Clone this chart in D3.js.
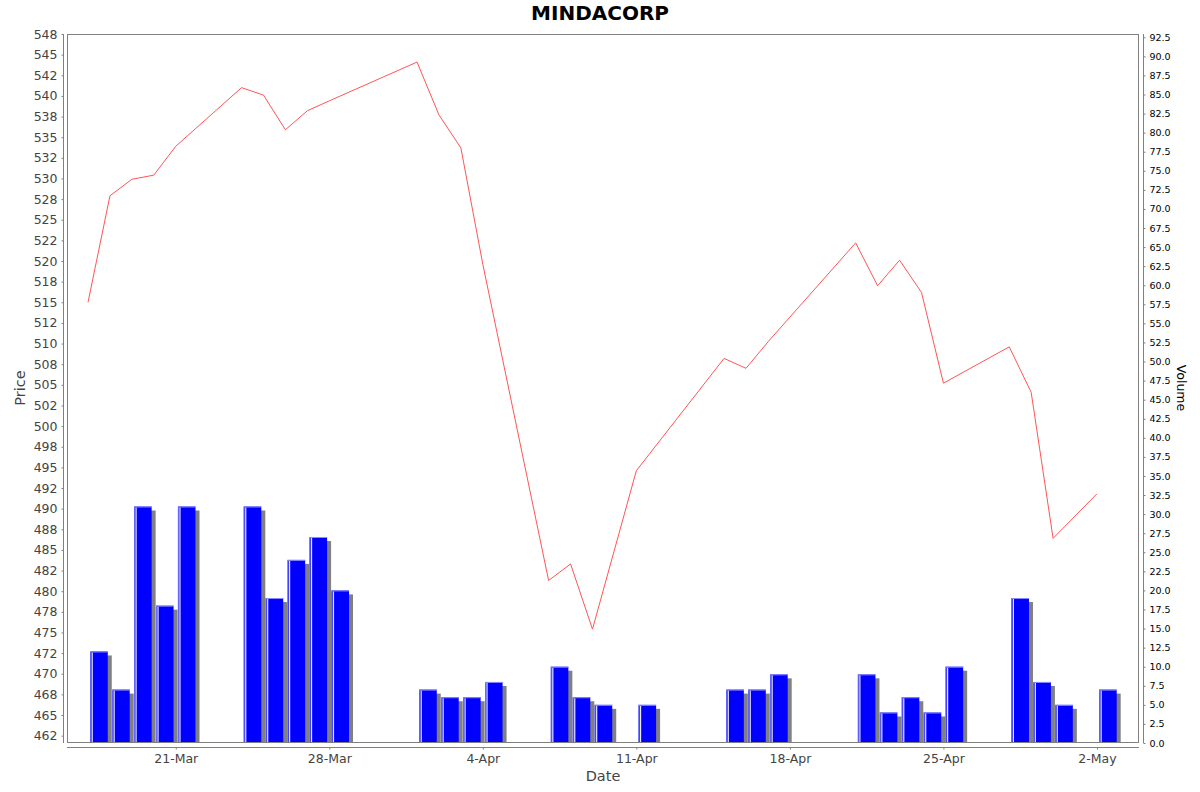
<!DOCTYPE html>
<html>
<head>
<meta charset="utf-8">
<script src="https://cdn.jsdelivr.net/npm/d3@7"></script>
<style>
body { margin: 0; background: #fff; }
text { font-family: "DejaVu Sans", sans-serif; }
</style>
</head>
<body>
<svg id="chart"></svg>
<script>
// trading days
var dates = ["2025-03-17", "2025-03-18", "2025-03-19", "2025-03-20", "2025-03-21",
    "2025-03-24", "2025-03-25", "2025-03-26", "2025-03-27", "2025-03-28",
    "2025-04-01", "2025-04-02", "2025-04-03", "2025-04-04",
    "2025-04-07", "2025-04-08", "2025-04-09", "2025-04-11",
    "2025-04-15", "2025-04-16", "2025-04-17",
    "2025-04-21", "2025-04-22", "2025-04-23", "2025-04-24", "2025-04-25",
    "2025-04-28", "2025-04-29", "2025-04-30", "2025-05-02"];

var prices = [515.0, 527.9, 529.9, 530.4, 533.9,
    541.0, 540.1, 535.9, 538.2, 539.4,
    544.1, 537.7, 533.7, 519.6,
    481.3, 483.3, 475.4, 494.6,
    508.2, 507.0, 510.2,
    522.2, 517.0, 520.1, 516.2, 505.2,
    509.6, 504.1, 486.4, 491.8];

var volumes = [12, 7, 31, 18, 31,
    31, 19, 24, 27, 20,
    7, 6, 6, 8,
    10, 6, 5, 5,
    7, 7, 9,
    9, 4, 6, 4, 10,
    19, 8, 5, 7];

var dateTicks = ["2025-03-21", "2025-03-28", "2025-04-04", "2025-04-11",
    "2025-04-18", "2025-04-25", "2025-05-02"];
var priceTicks = d3.range(462.5, 548, 2.5);
var volumeTicks = d3.range(0, 93, 2.5);

var svgWidth = 1200, svgHeight = 792;
var plot = {left: 67, top: 34, right: 1139, bottom: 743};

var parse = d3.timeParse("%Y-%m-%d");
var days = dates.map(parse);

var svg = d3.select("#chart")
    .attr("width", svgWidth)
    .attr("height", svgHeight);

// java style half-even rounding for the price labels
function halfEven(v) {
    var f = Math.floor(v);
    var diff = v - f;
    if (Math.abs(diff - 0.5) < 1e-9) return String(f % 2 === 0 ? f : f + 1);
    return String(Math.round(v));
}

var xScale = d3.scaleTime()
    .domain([d3.timeHour.offset(days[0], -23), d3.timeHour.offset(days[days.length - 1], 46)])
    .range([plot.left, plot.right]);

var yPrice = d3.scaleLinear()
    .domain([461.61, 547.5])
    .range([plot.bottom, plot.top]);

var yVolume = d3.scaleLinear()
    .domain([0, 92.93])
    .range([plot.bottom, plot.top]);

svg.append("clipPath").attr("id", "plotClip")
    .append("rect")
    .attr("x", plot.left).attr("y", plot.top)
    .attr("width", plot.right - plot.left)
    .attr("height", plot.bottom - plot.top);

svg.append("rect")
    .attr("x", plot.left).attr("y", plot.top)
    .attr("width", plot.right - plot.left)
    .attr("height", plot.bottom - plot.top)
    .attr("fill", "#fff");

var plotArea = svg.append("g").attr("clip-path", "url(#plotClip)");

// volume bars: each spans its day, 80% wide, with a grey shadow
function barX0(d) {
    var a = xScale(d), b = xScale(d3.timeDay.offset(d, 1));
    return a + (b - a) * 0.1;
}
function barW(d) {
    var a = xScale(d), b = xScale(d3.timeDay.offset(d, 1));
    return (b - a) * 0.8;
}

var bars = plotArea.selectAll("g.bar")
    .data(days)
    .enter()
    .append("g")
    .attr("class", "bar");

bars.append("rect")
    .attr("x", function (d) { return barX0(d) + 4; })
    .attr("y", function (d, i) { return yVolume(volumes[i]) + 4; })
    .attr("width", function (d) { return barW(d); })
    .attr("height", function (d, i) { return Math.max(0, plot.bottom - yVolume(volumes[i]) - 4); })
    .attr("fill", "#808080");

bars.append("rect")
    .attr("x", function (d) { return barX0(d); })
    .attr("y", function (d, i) { return yVolume(volumes[i]); })
    .attr("width", function (d) { return barW(d); })
    .attr("height", function (d, i) { return plot.bottom - yVolume(volumes[i]); })
    .attr("fill", "#0000ff");

bars.append("line")
    .attr("x1", function (d) { return barX0(d) + 0.5; })
    .attr("x2", function (d) { return barX0(d) + 0.5; })
    .attr("y1", function (d, i) { return yVolume(volumes[i]); })
    .attr("y2", plot.bottom)
    .attr("stroke", "#6a6aff")
    .attr("stroke-width", 1);

bars.append("line")
    .attr("x1", function (d) { return barX0(d) + 2; })
    .attr("x2", function (d) { return barX0(d) + 2; })
    .attr("y1", function (d, i) { return yVolume(volumes[i]) + 1; })
    .attr("y2", plot.bottom)
    .attr("stroke", "#e8e8ff")
    .attr("stroke-width", 1.2);

bars.append("line")
    .attr("x1", function (d) { return barX0(d); })
    .attr("x2", function (d) { return barX0(d) + barW(d); })
    .attr("y1", function (d, i) { return yVolume(volumes[i]) + 0.5; })
    .attr("y2", function (d, i) { return yVolume(volumes[i]) + 0.5; })
    .attr("stroke", "#8c8cff")
    .attr("stroke-width", 1);

// price line
var line = d3.line()
    .x(function (d) { return xScale(d); })
    .y(function (d, i) { return yPrice(prices[i]); });

plotArea.append("path")
    .datum(days)
    .attr("d", line)
    .attr("fill", "none")
    .attr("stroke", "#ff5555")
    .attr("stroke-width", 1);

// plot outline
svg.append("rect")
    .attr("x", plot.left + 0.5).attr("y", plot.top + 0.5)
    .attr("width", plot.right - plot.left - 1)
    .attr("height", plot.bottom - plot.top - 1)
    .attr("fill", "none")
    .attr("stroke", "#808080");

// axes
var leftAxis = d3.axisLeft(yPrice)
    .tickValues(priceTicks)
    .tickFormat(halfEven)
    .tickSizeInner(2)
    .tickSizeOuter(0)
    .tickPadding(4);

var gLeft = svg.append("g")
    .attr("transform", "translate(63.5,0)")
    .call(leftAxis);
gLeft.selectAll("text").attr("font-size", "12.5px").attr("fill", "#444");

var rightAxis = d3.axisRight(yVolume)
    .tickValues(volumeTicks)
    .tickFormat(d3.format(".1f"))
    .tickSizeInner(2)
    .tickSizeOuter(0)
    .tickPadding(4);

var gRight = svg.append("g")
    .attr("transform", "translate(1143.5,0)")
    .call(rightAxis);
gRight.selectAll("text").attr("font-size", "9.5px").attr("fill", "#000");

var bottomAxis = d3.axisBottom(xScale)
    .tickValues(dateTicks.map(parse))
    .tickFormat(d3.timeFormat("%-d-%b"))
    .tickSizeInner(2)
    .tickSizeOuter(0)
    .tickPadding(5);

var gBottom = svg.append("g")
    .attr("transform", "translate(0,747.5)")
    .call(bottomAxis);
gBottom.selectAll("text").attr("font-size", "12.5px").attr("fill", "#444");

[gLeft, gRight, gBottom].forEach(function (g) {
    g.selectAll(".domain").attr("stroke", "#808080");
    g.selectAll(".tick line").attr("stroke", "#808080");
    g.selectAll("text").attr("font-family", "DejaVu Sans");
});
gLeft.select(".domain").attr("d", "M0," + plot.top + "V" + plot.bottom);
gRight.select(".domain").attr("d", "M0," + plot.top + "V" + plot.bottom);
gBottom.select(".domain").attr("d", "M" + plot.left + ",0H" + plot.right);

// titles
svg.append("text")
    .attr("x", 600).attr("y", 20)
    .attr("text-anchor", "middle")
    .attr("font-size", "20px")
    .attr("font-weight", "bold")
    .attr("fill", "#000")
    .text("MINDACORP");

svg.append("text")
    .attr("transform", "translate(25,388) rotate(-90)")
    .attr("text-anchor", "middle")
    .attr("font-size", "14.5px")
    .attr("fill", "#444")
    .text("Price");

svg.append("text")
    .attr("transform", "translate(1177,388) rotate(90)")
    .attr("text-anchor", "middle")
    .attr("font-size", "12.5px")
    .attr("fill", "#000")
    .text("Volume");

svg.append("text")
    .attr("x", 603).attr("y", 781)
    .attr("text-anchor", "middle")
    .attr("font-size", "14.5px")
    .attr("fill", "#444")
    .text("Date");
</script>
</body>
</html>
